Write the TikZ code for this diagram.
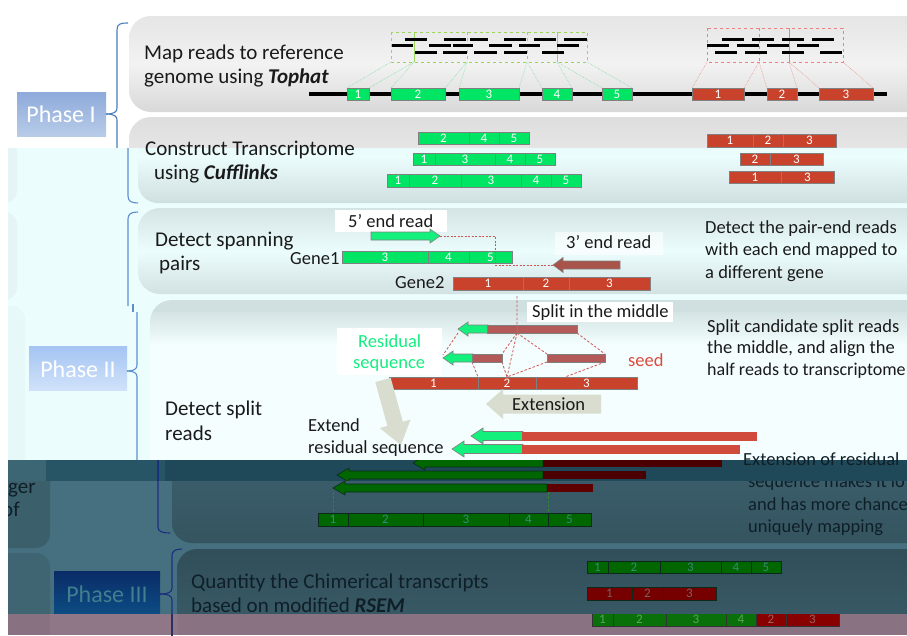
\documentclass[tikz,border=0pt]{standalone}
\usepackage{fontspec}
\setmainfont{Carlito}
\definecolor{gEx}{HTML}{00E664}
\definecolor{rEx}{HTML}{C9432C}
\definecolor{exB}{HTML}{808080}
\definecolor{arrG}{HTML}{14F07C}
\definecolor{arrT}{HTML}{A8544B}
\definecolor{splitR}{HTML}{B35A58}
\definecolor{extR}{HTML}{D04B3B}
\definecolor{dkG}{HTML}{006600}
\definecolor{dkGb}{HTML}{0B2A1C}
\definecolor{dkR}{HTML}{5E0000}
\definecolor{dkRc}{HTML}{4A0000}
\definecolor{dkNum}{HTML}{3A8A7A}
\definecolor{dkRNum}{HTML}{7A6262}
\definecolor{bandB}{HTML}{ECFDFD}
\definecolor{bandC}{HTML}{285565}
\definecolor{bandCbox}{HTML}{1F4959}
\definecolor{bandD}{HTML}{46707F}
\definecolor{bandE}{HTML}{8F7787}
\definecolor{brA}{HTML}{4A7EBB}
\definecolor{brB}{HTML}{5B8FD0}
\definecolor{brD}{HTML}{1B2F7F}
\definecolor{brE}{HTML}{2E2E60}
\definecolor{txtD}{HTML}{0F1F28}
\definecolor{txtA}{HTML}{1A1A1A}
\definecolor{resG}{HTML}{14EE80}
\definecolor{seedR}{HTML}{DD4B3E}
\definecolor{extGrey}{HTML}{D8DDD0}
\definecolor{dashR}{HTML}{D05555}
\definecolor{gDash}{HTML}{9BD65B}
\definecolor{gLink}{HTML}{7DE0A0}
\definecolor{rDash}{HTML}{F08080}
\definecolor{rLink}{HTML}{E89080}
\definecolor{phIT}{HTML}{8EAADB}
\definecolor{phIB}{HTML}{B8CCE8}
\definecolor{phIIT}{HTML}{A4C4F2}
\definecolor{phIIB}{HTML}{D0E2FA}
\definecolor{phIIIT}{HTML}{0A2C66}
\definecolor{phIIIB}{HTML}{0D4C84}
\definecolor{phIIItx}{HTML}{3F7F8E}
\definecolor{chG}{HTML}{0A700A}
\definecolor{chR}{HTML}{880000}

\newcommand\exseg[8]{%
  \filldraw[fill=#5,draw=#6,line width=0.8pt] (#1,#3) rectangle (#2,#4);
  \node[num,text=#7] at ({(#1+#2)/2},{(#3+#4)/2}) {#8};}
\newcommand\arrowshape[8]{%
  \filldraw[fill=#7,draw=#8,line width=0.6pt] (#1,#3) -- ({#1+#6},{#3-#5}) -- ({#1+#6},{#3-#4}) -- (#2,{#3-#4}) -- (#2,{#3+#4}) -- ({#1+#6},{#3+#4}) -- ({#1+#6},{#3+#5}) -- cycle;}

\begin{document}
\begin{tikzpicture}[x=1pt,y=-1pt,
  num/.style={font=\fontsize{13}{13}\selectfont, inner sep=0pt},
  txt/.style={anchor=base west, inner sep=0pt, font=\fontsize{21}{24}\selectfont, text=txtA},
  stxt/.style={anchor=base west, inner sep=0pt, font=\fontsize{18.5}{22}\selectfont, text=txtA},
  phase/.style={font=\fontsize{24}{26}\selectfont, inner sep=0pt},
  bracestyle/.style={line width=1.1pt},
  rdash/.style={dashR, dash pattern=on 2.5pt off 1.8pt, line width=0.8pt},
  read/.style={line width=3pt, black}]
\useasboundingbox (0,0) rectangle (907,635);

%================ BAND A =================
\begin{scope}
\clip (0,0) rectangle (907,148);
\fill[white] (0,0) rectangle (907,148);
\shade[rounded corners=22pt, top color=black!10, bottom color=black!15, middle color=black!5] (129,16) rectangle (935,112);
\shade[rounded corners=22pt, top color=black!13, bottom color=black!4] (129,117) rectangle (935,215);
\shade[top color=phIT, bottom color=phIB] (17,92) rectangle (106,136);
\node[phase, text=white] (p1) at (61,114) {Phase I};
\draw[bracestyle, brA] (128,23) .. controls (120,23) and (117,24) .. (117,30) -- (117,108) .. controls (117,112) and (114,114) .. (106,114);
\draw[bracestyle, brA] (106,114) .. controls (114,114) and (117,116) .. (117,120) -- (117,150);
\node[txt] (ta1) at (144,59) {Map reads to reference};
\node[txt] (ta2) at (144,83) {genome using \textbf{\textit{Tophat}}};
% dashed groups
\draw[gDash, dashed, line width=0.7pt] (391,32) rectangle (587,62);
\draw[gDash, line width=0.7pt] (414,32) -- (414,62) (557,32) -- (557,62);
\draw[gDash, dashed, line width=0.7pt] (467,32) -- (467,62) (527,32) -- (527,62);
\draw[rDash, dashed, line width=0.7pt] (707,28) rectangle (843,62) (759,28) -- (759,62);
\draw[rDash, line width=0.7pt] (789,28) -- (789,62);
\foreach \a/\b/\y in {405/427/39, 444/466/39, 470/488/39, 504/526/39, 534/556/39, 564/587/39,
  392/413/45, 429/451/45, 453/473/45, 489/512/45, 519/540/45, 557/579/45,
  415/437/52, 443/467/52, 474/497/52, 504/527/52, 542/564/52,
  722/744/39, 752/774/39, 782/804/39, 812/834/39,
  707/729/45, 737/759/45, 767/789/45, 797/819/45,
  715/737/52, 745/767/52, 782/804/52, 820/842/52}
  \draw[read] (\a,\y) -- (\b,\y);
\draw[gLink, densely dotted, line width=0.6pt] (391,62) -- (347,88) (414,62) -- (369,88) (414,62) -- (391,88)
  (467,62) -- (445,88) (467,62) -- (459,88) (527,62) -- (519,88) (527,62) -- (542,88)
  (557,62) -- (572,88) (557,62) -- (602,88) (587,62) -- (632,88);
\draw[rLink, densely dotted, line width=0.6pt] (707,62) -- (692,88) (759,62) -- (744,88) (759,62) -- (767,88)
  (789,62) -- (797,88) (789,62) -- (819,88) (843,62) -- (873,88);
\draw[line width=4pt] (309,94) -- (887,94);
\foreach \a/\b/\l in {347/369/1, 391/445/2, 459/519/3, 542/572/4, 602/632/5}
  {\exseg{\a}{\b}{88}{100}{gEx}{exB}{white}{\l}}
\foreach \a/\b/\l in {692/744/1, 767/797/2, 819/873/3}
  {\exseg{\a}{\b}{88}{100}{rEx}{exB}{white}{\l}}
% box 2 top
\foreach \a/\b/\l in {418/469/2, 469/499/4, 499/529/5}
  {\exseg{\a}{\b}{132}{144}{gEx}{exB}{white}{\l}}
\foreach \a/\b/\l in {707/753/1, 753/783/2, 783/836/3}
  {\exseg{\a}{\b}{134}{147}{rEx}{exB}{white}{\l}}
\end{scope}

%================ BAND B =================
\begin{scope}
\clip (8,148) rectangle (907,460);
\fill[bandB] (8,148) rectangle (907,460);
\fill[rounded corners=12pt, color=black!3!bandB] (-40,140) rectangle (17,203);
\fill[rounded corners=12pt, color=black!3!bandB] (-40,212) rectangle (17,300);
\fill[rounded corners=14pt, color=black!2!bandB] (-40,306) rectangle (25,480);
\shade[rounded corners=20pt, top color=black!6!bandB, bottom color=black!12!bandB, middle color=bandB] (138,110) rectangle (935,203);
\shade[rounded corners=22pt, top color=black!10!bandB, bottom color=black!11!bandB, middle color=bandB] (138,208) rectangle (935,294);
\begin{scope}
\clip[rounded corners=22pt] (150,300) rectangle (935,600);
\fill[color=white!40!bandB] (150,300) rectangle (935,600);
\fill[color=black!12!bandB] (150,300) rectangle (935,312);
\shade[top color=black!10!bandB, bottom color=white!40!bandB] (150,312) rectangle (935,345);
\end{scope}
\shade[top color=phIIT, bottom color=phIIB] (29,346) rectangle (127,390);
\node[phase, text=white] (p2) at (78,369) {Phase II};
% braces
\draw[bracestyle, brB] (128,146) -- (128,196) .. controls (128,201) and (131,203) .. (138,203);
\draw[bracestyle, brB] (138,212) .. controls (131,212) and (128,214) .. (128,219) -- (128,306);
\draw[bracestyle, brB] (133,304) -- (133,312);
\draw[bracestyle, brB] (137,312) -- (137,365) .. controls (137,369) and (134,371) .. (127,371);
\draw[bracestyle, brB] (127,371) .. controls (134,371) and (137,373) .. (137,377) -- (137,462);
% box 2 content
\node[txt] (tb2) at (154,179) {using \textbf{\textit{Cufflinks}}};
\foreach \a/\b/\l in {418/469/2, 469/499/4, 499/529/5}
  {\exseg{\a}{\b}{132}{144}{gEx}{exB}{white}{\l}}
\foreach \a/\b/\l in {413/435/1, 435/495/3, 495/525/4, 525/555/5}
  {\exseg{\a}{\b}{153}{165}{gEx}{exB}{white}{\l}}
\foreach \a/\b/\l in {387/409/1, 409/461/2, 461/521/3, 521/551/4, 551/581/5}
  {\exseg{\a}{\b}{174}{187}{gEx}{exB}{white}{\l}}
\foreach \a/\b/\l in {740/770/2, 770/823/3}
  {\exseg{\a}{\b}{153}{165}{rEx}{exB}{white}{\l}}
\foreach \a/\b/\l in {729/781/1, 781/834/3}
  {\exseg{\a}{\b}{171}{183}{rEx}{exB}{white}{\l}}
% box 3 content
\node[txt] (tb3) at (155,246) {Detect spanning};
\node[txt] (tb4) at (159,270) {pairs};
\fill[white] (335,210) rectangle (447,232);
\node[stxt] (t5r) at (348,227) {5’ end read};
\fill[white, opacity=0.6] (555,232) rectangle (663,255);
\node[stxt] (t3r) at (566,248) {3’ end read};
\node[stxt] (g1) at (290,264) {Gene1};
\node[stxt] (g2) at (395,288) {Gene2};
\foreach \a/\b/\l in {342/428/3, 428/469/4, 469/512/5}
  {\exseg{\a}{\b}{251}{263}{gEx}{exB}{white}{\l}}
\foreach \a/\b/\l in {453/523/1, 523/569/2, 569/650/3}
  {\exseg{\a}{\b}{277}{290}{rEx}{exB}{white}{\l}}
\arrowshape{440}{371}{236}{4}{7}{-10}{arrG}{exB}
\arrowshape{553}{620}{265}{4}{7.5}{10}{arrT}{exB}
\draw[rdash, dash pattern=on 2pt off 1.5pt] (440,236) -- (495,236) -- (495,265) -- (553,265);
\node[stxt] (tr1) at (705,233) {Detect the pair-end reads};
\node[stxt] (tr2) at (705,255) {with each end mapped to};
\node[stxt] (tr3) at (705,278) {a different gene};
% box 4 content
\fill[white] (527,302) rectangle (673,322);
\node[stxt] (tsp) at (532,317) {Split in the middle};
\draw[rdash] (517,296) -- (517,333) (458,333) -- (443,355) (517,333) -- (502,354) (517,333) -- (547,354)
  (577,333) -- (605,354) (517,333) -- (507,377) (472,362) -- (478,377) (502,362) -- (507,377)
  (547,362) -- (507,377) (605,362) -- (565,377);
\arrowshape{458}{488}{329}{4}{7}{10}{arrG}{exB}
\filldraw[fill=splitR, draw=exB, line width=0.6pt] (487,325) rectangle (577,333);
\draw[exB, line width=0.6pt] (517,325) -- (517,333);
\arrowshape{443}{473}{358}{4}{7}{10}{arrG}{exB}
\filldraw[fill=splitR, draw=exB, line width=0.6pt] (472,354) rectangle (502,362);
\filldraw[fill=splitR, draw=exB, line width=0.6pt] (547,354) rectangle (605,362);
\foreach \a/\b/\l in {389/478/1, 478/536/2, 536/637/3}
  {\exseg{\a}{\b}{377}{389}{rEx}{exB}{white}{\l}}
\fill[white] (337,328) rectangle (442,375);
\node[stxt, text=resG] (tres1) at (358,347) {Residual};
\node[stxt, text=resG] (tres2) at (353,368) {sequence};
\node[stxt, text=seedR] (tseed) at (628,366) {seed};
\arrowshape{486}{601}{404}{9.5}{15}{17}{extGrey}{none}
\node[stxt] (text1) at (512,410) {Extension};
\fill[extGrey] (390.7,377.9) -- (402.8,421.7) -- (410.5,419.5) -- (401,445) -- (379.7,428.1) -- (387.4,425.9) -- (375.3,382.1) -- cycle;
\node[txt] (tds1) at (165,415) {Detect split};
\node[txt] (tds2) at (165,440) {reads};
\node[stxt] (tex1) at (308,431) {Extend};
\node[stxt] (tex2) at (308,453) {residual sequence};
\arrowshape{471}{523}{436}{4.5}{8}{12}{arrG}{exB}
\fill[extR] (522,431.5) rectangle (757,440.5);
\arrowshape{452}{523}{449}{4.5}{8}{12}{arrG}{exB}
\fill[extR] (522,444.5) rectangle (740,453.5);
\node[stxt] (tsc1) at (707,332) {Split candidate split reads};
\node[stxt] (tsc2) at (707,353) {the middle, and align the};
\node[stxt, font=\fontsize{18}{22}\selectfont] (tsc3) at (707,375) {half reads to transcriptome};
\node[stxt, text=txtD] (teo0) at (743,465) {Extension of residual};
\end{scope}

% text across bands A/B
\node[txt] (tb1) at (145,155) {Construct Transcriptome};

%================ BAND C =================
\begin{scope}
\clip (8,460) rectangle (907,481);
\fill[bandC] (8,460) rectangle (907,481);
\fill[bandCbox] (165,460) rectangle (907,481);
\fill[color=bandC!90!white] (8,460) rectangle (46,481);
\draw[bracestyle, brD] (158,455) -- (158,527);
\arrowshape{413}{543}{463}{4}{7}{12}{dkG}{dkGb}
\fill[dkRc] (543,459) rectangle (722,467);
\arrowshape{337}{543}{475}{4}{7}{12}{dkG}{dkGb}
\fill[dkRc] (543,471) rectangle (646,479);
\node[stxt, text=txtD] (teo1) at (743,465) {Extension of residual};
\end{scope}

%================ BAND D =================
\begin{scope}
\clip (8,481) rectangle (907,614);
\fill[bandD] (8,481) rectangle (907,614);
\fill[rounded corners=14pt, color=bandD!85!black] (-30,440) rectangle (50,548);
\fill[rounded corners=14pt, color=bandD!90!black] (-30,553) rectangle (50,700);
\node[txt, text=txtD] (tger) at (8,493) {ger};
\node[txt, text=txtD] (tof) at (2,516) {of};
\shade[rounded corners=20pt, top color=bandD!88!black, bottom color=bandD!75!black] (172,440) rectangle (935,543);
\shade[rounded corners=20pt, top color=bandD!70!black, bottom color=bandD!88!black] (177,549) rectangle (935,680);
\shade[top color=phIIIT, bottom color=phIIIB] (54,571) rectangle (160,614);
\node[phase, text=phIIItx] (p3) at (107,594) {Phase III};
\draw[bracestyle, brD] (158,470) -- (158,527) .. controls (158,531) and (161,533) .. (170,533);
\draw[bracestyle, brD] (182,549) .. controls (175,549) and (172,551) .. (172,556) -- (172,588) .. controls (172,592) and (169,594) .. (160,594);
\draw[bracestyle, brD] (160,594) .. controls (169,594) and (172,596) .. (172,600) -- (172,620);
\arrowshape{333}{547}{488}{4}{7}{12}{dkG}{dkGb}
\fill[dkR] (547,484) rectangle (593,492);
\draw[dkG!80!white, dash pattern=on 2.5pt off 1.8pt, line width=0.8pt] (333,492) -- (333,513) (548,492) -- (548,513);
\foreach \a/\b/\l in {318/348/1, 348/423/2, 423/509/3, 509/548/4, 548/591/5}
  {\exseg{\a}{\b}{513}{526}{dkG}{dkGb}{dkNum}{\l}}
\node[stxt, text=txtD] (teo2) at (748,487) {sequence makes it lo};
\node[stxt, text=txtD] (teo3) at (748,510) {and has more chance};
\node[stxt, text=txtD] (teo4) at (748,532) {uniquely mapping};
\node[txt, text=txtD] (tq1) at (191,588) {Quantity the Chimerical transcripts};
\node[txt, text=txtD] (tq2) at (191,612) {based on modified \textbf{\textit{RSEM}}};
\foreach \a/\b/\l in {587/608/1, 608/660/2, 660/721/3, 721/751/4, 751/781/5}
  {\exseg{\a}{\b}{561}{573}{dkG}{dkGb}{dkNum}{\l}}
\foreach \a/\b/\l in {587/632/1, 632/663/2, 663/716/3}
  {\exseg{\a}{\b}{587}{600}{dkR!85!red}{dkGb}{dkRNum}{\l}}
\end{scope}

%================ BAND E =================
\begin{scope}
\clip (8,614) rectangle (907,635);
\fill[bandE] (8,614) rectangle (907,635);
\fill[color=bandE!95!black] (-30,614) rectangle (50,635);
\fill[color=bandE!96!black] (178,614) rectangle (935,635);
\draw[bracestyle, brE] (172,600) -- (172,640);
\foreach \a/\b/\l in {592/613/1, 613/666/2, 666/726/3, 726/756/4}
  {\exseg{\a}{\b}{613}{626}{chG}{black!80}{green!30!gray}{\l}}
\foreach \a/\b/\l in {756/786/2, 786/839/3}
  {\exseg{\a}{\b}{613}{626}{chR}{black!80}{red!25!gray}{\l}}
\end{scope}
\end{tikzpicture}
\end{document}
